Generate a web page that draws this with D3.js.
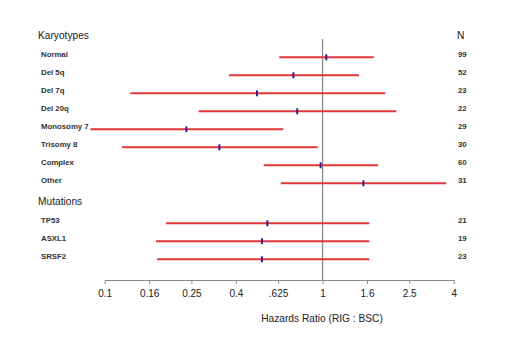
<!DOCTYPE html>
<html>
<head>
<meta charset="utf-8">
<script src="https://cdn.jsdelivr.net/npm/d3@7"></script>
<style>
  body { margin: 0; background: #fff; }
  text { font-family: "Liberation Sans", Arial, sans-serif; fill: #222; }
</style>
</head>
<body>
<div id="chart"></div>
<script>
var karyotypes = ["Normal", "Del 5q", "Del 7q", "Del 20q", "Monosomy 7", "Trisomy 8", "Complex", "Other"];
var karyoN     = [99, 52, 23, 22, 29, 30, 60, 31];
var karyoHR    = [1.04, 0.735, 0.50, 0.765, 0.237, 0.336, 0.98, 1.54];
var karyoLo    = [0.633, 0.372, 0.131, 0.270, 0.086, 0.120, 0.537, 0.643];
var karyoHi    = [1.72, 1.47, 1.94, 2.18, 0.66, 0.95, 1.80, 3.69];

var mutations  = ["TP53", "ASXL1", "SRSF2"];
var mutN       = [21, 19, 23];
var mutHR      = [0.558, 0.527, 0.527];
var mutLo      = [0.191, 0.172, 0.174];
var mutHi      = [1.64, 1.64, 1.64];

var tickValues = [0.1, 0.16, 0.25, 0.4, 0.625, 1, 1.6, 2.5, 4];
var tickLabels = ["0.1", "0.16", "0.25", "0.4", ".625", "1", "1.6", "2.5", "4"];

var width = 520, height = 347;
var svg = d3.select('#chart').append('svg')
    .attr('width', width)
    .attr('height', height);

var x = d3.scaleLog().domain([0.1, 4]).range([104.7, 453.7]);

// rows: one slot per karyotype, a gap slot for the heading, then mutations
var rows = [];
karyotypes.forEach(function (k, i) {
    rows.push({name: k, n: karyoN[i], hr: karyoHR[i], lo: karyoLo[i], hi: karyoHi[i], slot: i});
});
mutations.forEach(function (m, i) {
    rows.push({name: m, n: mutN[i], hr: mutHR[i], lo: mutLo[i], hi: mutHi[i], slot: karyotypes.length + 1.22 + i});
});
var y = d3.scaleLinear().domain([0, 1]).range([57.3, 75.3]);

// reference line at HR = 1
svg.append('line')
    .attr('x1', x(1)).attr('x2', x(1))
    .attr('y1', 39).attr('y2', 280)
    .attr('stroke', '#8a8a8a')
    .style('stroke-width', '1.3px');

// axis
var axis = d3.axisBottom(x)
    .tickValues(tickValues)
    .tickFormat(function (d, i) { return tickLabels[i]; })
    .tickSize(4)
    .tickSizeOuter(0);
var gAxis = svg.append('g')
    .attr('transform', 'translate(0,280)')
    .call(axis);
gAxis.select('.domain').attr('stroke', '#8a8a8a');
gAxis.selectAll('.tick line').attr('stroke', '#8a8a8a');
gAxis.selectAll('.tick text')
    .attr('y', 10)
    .style('font-family', '"Liberation Sans", Arial, sans-serif')
    .style('font-size', '10px')
    .style('fill', '#222');

svg.append('text')
    .attr('x', 322).attr('y', 322)
    .attr('text-anchor', 'middle')
    .style('font-size', '10.2px')
    .text('Hazards Ratio (RIG : BSC)');

// section headings
svg.append('text').attr('x', 38).attr('y', 39).style('font-size', '10.2px').text('Karyotypes');
svg.append('text').attr('x', 38).attr('y', 205).style('font-size', '10.2px').text('Mutations');
svg.append('text').attr('x', 457).attr('y', 39).style('font-size', '10.2px').text('N');

// row labels and N
svg.selectAll('.label')
    .data(rows)
    .enter()
    .append('text')
    .attr('x', 41)
    .attr('y', d => y(d.slot) - 0.5)
    .style('font-size', '7.8px')
    .style('font-weight', 'bold')
    .style('fill', '#333')
    .text(d => d.name);

svg.selectAll('.nval')
    .data(rows)
    .enter()
    .append('text')
    .attr('x', 458)
    .attr('y', d => y(d.slot) - 0.5)
    .style('font-size', '7.8px')
    .style('font-weight', 'bold')
    .style('fill', '#333')
    .text(d => d.n);

// confidence intervals
svg.selectAll('.ci')
    .data(rows)
    .enter()
    .append('line')
    .attr('x1', d => x(d.lo))
    .attr('x2', d => x(d.hi))
    .attr('y1', d => y(d.slot))
    .attr('y2', d => y(d.slot))
    .attr('stroke', '#e3343a')
    .style('stroke-width', '2px');

// point estimates
svg.selectAll('.pt')
    .data(rows)
    .enter()
    .append('rect')
    .attr('x', d => x(d.hr) - 1)
    .attr('y', d => y(d.slot) - 3)
    .attr('width', 2)
    .attr('height', 6)
    .attr('fill', '#3a1f8f');
</script>
</body>
</html>
